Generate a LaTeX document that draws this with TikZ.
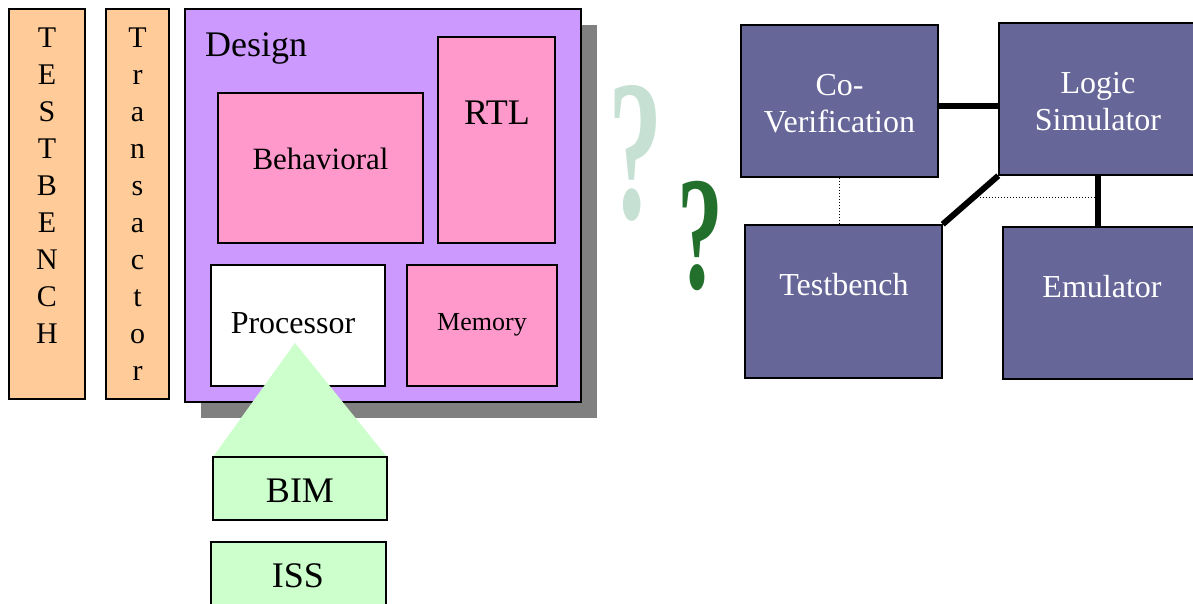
\documentclass[tikz,border=0pt]{standalone}
\usepackage{fontspec}
\setmainfont{Liberation Serif}
\usepackage{xcolor}
\definecolor{benchcolor}{HTML}{FFCC99}
\definecolor{designcolor}{HTML}{CC99FF}
\definecolor{blockcolor}{HTML}{FF99CC}
\definecolor{modelcolor}{HTML}{CCFFCC}
\definecolor{toolcolor}{HTML}{666699}
\definecolor{shadowcolor}{HTML}{808080}
\definecolor{paleq}{HTML}{C6E0D4}
\definecolor{darkq}{HTML}{23702D}
\usepackage{tikz}
\usetikzlibrary{positioning, calc, shadows}

\tikzset{
    box/.style={draw, rectangle, line width=1.5pt, inner sep=0pt},
    toolbox/.style={box, fill=toolcolor},
    huge/.style={font=\fontsize{36}{43}\selectfont},
    large/.style={font=\fontsize{32}{37}\selectfont},
    letter/.style={font=\fontsize{30}{36}\selectfont, inner sep=0pt, anchor=base},
    link/.style={line width=6pt},
    weak/.style={line width=1pt, dotted}
}

\begin{document}
\begin{tikzpicture}[x=1pt, y=-1pt]
    \clip (0,0) rectangle (1193,604);

    % Testbench and transactor columns
    \node[box, fill=benchcolor, minimum width=76pt, minimum height=390pt] (bench) at (47,204) {};
    \foreach \ch [count=\i from 0] in {T,E,S,T,B,E,N,C,H}
        \node[letter] (benchl\i) at (47,48+36.9*\i) {\ch};
    \node[box, fill=benchcolor, minimum width=63pt, minimum height=390pt] (trans) at (137.5,204) {};
    \foreach \ch [count=\i from 0] in {T,r,a,n,s,a,c,t,o,r}
        \node[letter] (transl\i) at (137.5,48+36.9*\i) {\ch};

    % Design block with its parts
    \node[box, fill=designcolor, minimum width=396pt, minimum height=393pt,
        drop shadow={shadow xshift=16pt, shadow yshift=-16pt, fill=shadowcolor, opacity=1}] (design) at (383,205.5) {};
    \node[huge, anchor=base west, inner sep=0pt] (designtext) at (205,57) {Design};

    \node[box, fill=blockcolor, minimum width=205pt, minimum height=150pt] (behav) at (320.5,168) {};
    \node[font=\fontsize{31}{37}\selectfont, anchor=base, inner sep=0pt] (behavtext) at (320.5,170) {Behavioral};

    \node[box, fill=blockcolor, minimum width=117pt, minimum height=206pt] (rtl) at (496.5,140) {};
    \node[huge, anchor=base, inner sep=0pt] (rtltext) at (497,125) {RTL};

    \node[box, fill=white, minimum width=174pt, minimum height=121pt] (proc) at (298,325.5) {};
    \node[large, anchor=base, inner sep=0pt] (proctext) at (293,333) {Processor};

    \node[box, fill=blockcolor, minimum width=150pt, minimum height=121pt] (mem) at (482,325.5) {};
    \node[font=\fontsize{26}{31}\selectfont, anchor=base, inner sep=0pt] (memtext) at (482,330) {Memory};

    % Processor models
    \fill[modelcolor] (295,343) -- (213,457) -- (387,457) -- cycle;
    \node[box, fill=modelcolor, minimum width=174pt, minimum height=63pt] (bim) at (300,488.5) {};
    \node[huge, anchor=base, inner sep=0pt] (bimtext) at (300,502) {BIM};
    \node[box, fill=modelcolor, minimum width=175pt, minimum height=64pt] (iss) at (298.5,574) {};
    \node[huge, anchor=base, inner sep=0pt] (isstext) at (298,587) {ISS};

    % Question marks
    \node[text=paleq, font=\fontsize{128}{150}\selectfont\bfseries, inner sep=0pt] (qpale) at (636,153) {\scalebox{0.85}[1.57]{?}};
    \node[text=darkq, font=\fontsize{108}{130}\selectfont\bfseries, inner sep=0pt] (qdark) at (700,236) {\scalebox{0.85}[1.5]{?}};

    % Verification tools
    \node[toolbox, minimum width=197pt, minimum height=152pt] (cover) at (839.5,101) {};
    \node[large, text=white, align=center, anchor=base, inner sep=0pt] (covertext) at (839.5,133) {Co-\\Verification};

    \node[toolbox, minimum width=198pt, minimum height=152pt] (logic) at (1098,99) {};
    \node[large, text=white, align=center, anchor=base, inner sep=0pt] (logictext) at (1098,131) {Logic\\Simulator};

    \node[toolbox, minimum width=197pt, minimum height=153pt] (bench2) at (843.5,301.5) {};
    \node[large, text=white, anchor=base, inner sep=0pt] (bench2text) at (844,295) {Testbench};

    \node[toolbox, minimum width=194pt, minimum height=152pt] (emu) at (1100,303) {};
    \node[large, text=white, anchor=base, inner sep=0pt] (emutext) at (1102,297) {Emulator};

    % Links between tools
    \draw[link] ([yshift=-5pt]cover.east) -- ([yshift=-5pt]cover.east -| logic.west);
    \draw[link] (logic.south west) -- (bench2.north east);
    \draw[link] (logic.south) -- (logic.south |- emu.north);
    \draw[weak] (cover.south) -- (cover.south |- bench2.north);
    \coordinate (mid) at ($(logic.south west)!0.44!(bench2.north east)$);
    \draw[weak] (mid) -- (mid -| logic.south);
\end{tikzpicture}
\end{document}
